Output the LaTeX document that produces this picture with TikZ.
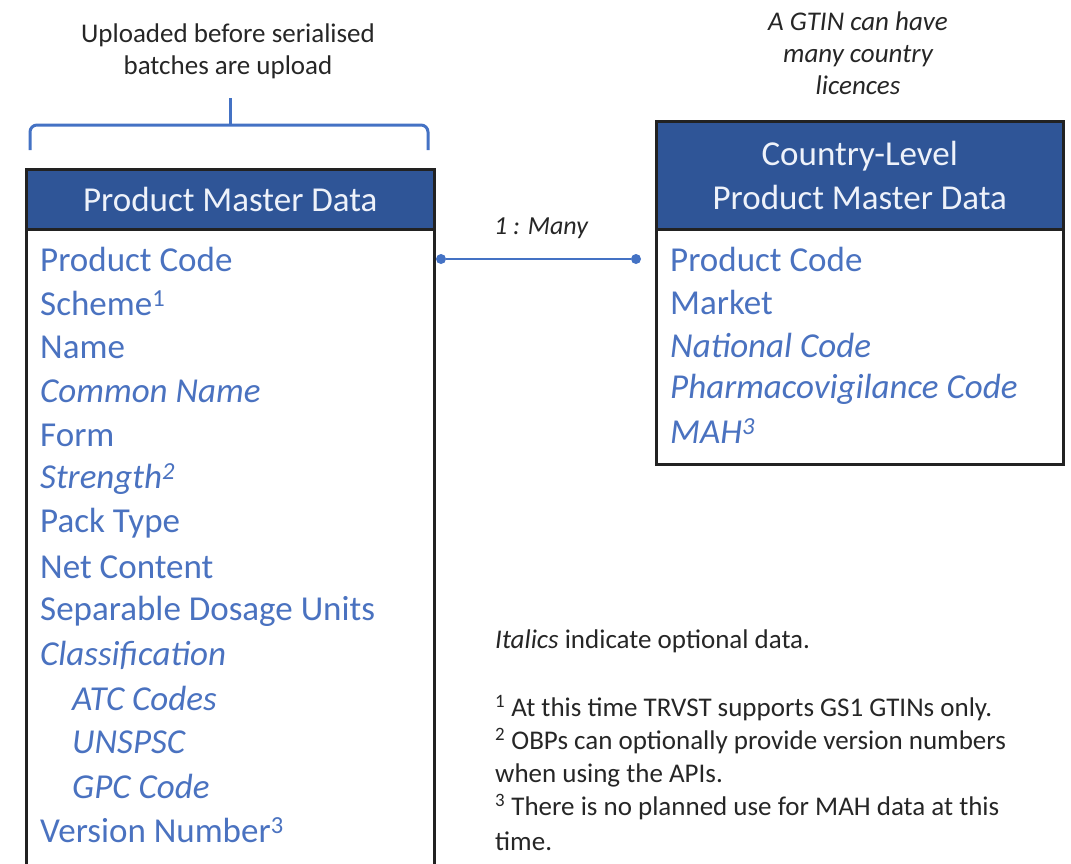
\documentclass[tikz,border=0pt]{standalone}
\usepackage{fontspec}
\setmainfont{Carlito}
\definecolor{hdr}{HTML}{2F5597}
\definecolor{hdrtxt}{HTML}{EEF2FA}
\definecolor{itm}{HTML}{4A72C0}
\definecolor{brd}{HTML}{222222}
\definecolor{ann}{HTML}{262626}
\definecolor{lnk}{HTML}{4472C4}
\begin{document}
\begin{tikzpicture}[x=1pt,y=-1pt,
  hdrbox/.style={draw=brd, line width=2.5pt, fill=hdr, text=hdrtxt, inner sep=0pt,
    font=\fontsize{35}{44}\selectfont, align=center, anchor=north west},
  bodybox/.style={draw=brd, line width=2.5pt, fill=white, inner sep=0pt, anchor=north west},
  item/.style={text=itm, anchor=west, inner sep=0pt, font=\fontsize{35}{42}\selectfont},
  itemi/.style={item, font=\fontsize{35}{42}\selectfont\itshape},
  ann/.style={text=ann, inner sep=0pt, align=center, font=\fontsize{27}{32}\selectfont},
  note/.style={text=ann, inner sep=0pt, align=left, anchor=north west, font=\fontsize{27}{33}\selectfont},
  dot/.style={circle, fill=lnk, inner sep=0pt, minimum size=10pt},
  link/.style={draw=lnk, line width=2pt},
  bracel/.style={draw=lnk, line width=3pt, rounded corners=7pt}
]
\useasboundingbox (0,0) rectangle (1071,863);
\clip (0,0) rectangle (1071,863);

% left box
\node[bodybox, minimum width=408pt, minimum height=660pt] (lbody) at (25,228) {};
\node[hdrbox, minimum width=408pt, minimum height=60pt] (lhdr) at (25,168) {Product Master Data};

\node[item]  (l1)  at (40,259) {Product Code};
\node[item]  (l2)  at (40,303) {Scheme\textsuperscript{1}};
\node[item]  (l3)  at (40,347) {Name};
\node[itemi] (l4)  at (40,391) {Common Name};
\node[item]  (l5)  at (40,435) {Form};
\node[itemi] (l6)  at (40,479) {Strength\textsuperscript{2}};
\node[item]  (l7)  at (40,523) {Pack Type};
\node[item]  (l8)  at (40,567) {Net Content};
\node[item]  (l9)  at (40,611) {Separable Dosage Units};
\node[itemi] (l10) at (40,655) {Classification};
\node[itemi] (l11) at (72,698) {ATC Codes};
\node[itemi] (l12) at (72,742) {UNSPSC};
\node[itemi] (l13) at (72,786) {GPC Code};
\node[item]  (l14) at (40,830) {Version Number\textsuperscript{3}};

% right box
\node[bodybox, minimum width=407pt, minimum height=235pt] (rbody) at (655,228) {};
\node[hdrbox, minimum width=407pt, minimum height=108pt] (rhdr) at (655,120) {Country-Level\\Product Master Data};

\node[item]  (r1) at (670,259) {Product Code};
\node[item]  (r2) at (670,302) {Market};
\node[itemi] (r3) at (670,345) {National Code};
\node[itemi] (r4) at (670,389) {Pharmacovigilance Code};
\node[itemi] (r5) at (670,431) {MAH\textsuperscript{3}};

% connector
\node[dot] (d1) at (441,259) {};
\node[dot] (d2) at (636,259) {};
\draw[link] (d1) -- (d2);
\node[ann, font=\fontsize{26}{30}\selectfont\itshape] (many) at (541,228) {1 : Many};

% brace
\coordinate (bl) at (30,150);
\coordinate (br) at (428,150);
\coordinate (bm) at (230,125);
\coordinate (bt) at (230,98);
\draw[bracel] (bl) -- (30,125) -- (428,125) -- (br);
\draw[draw=lnk, line width=3pt] (bm) -- (bt);

% annotations
\node[ann] (upl) at (228,51) {Uploaded before serialised\\batches are upload};
\node[ann, font=\fontsize{27}{32}\selectfont\itshape] (gtin) at (858,53) {A GTIN can have\\many country\\licences};

% notes
\node[note] (n0) at (495,630) {\textit{Italics} indicate optional data.};
\node[note] (n1) at (495,695) {\textsuperscript{1} At this time TRVST supports GS1 GTINs only.\\
\textsuperscript{2} OBPs can optionally provide version numbers\\
when using the APIs.\\
\textsuperscript{3} There is no planned use for MAH data at this\\[2pt]
time.};
\end{tikzpicture}
\end{document}
